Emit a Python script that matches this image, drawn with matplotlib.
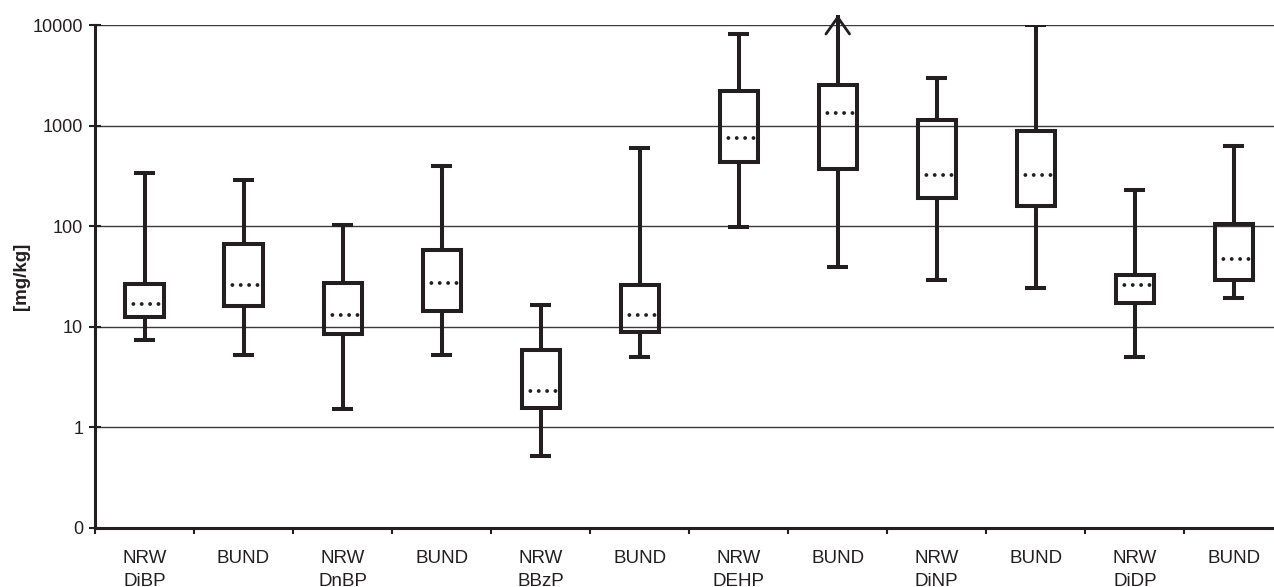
import matplotlib
matplotlib.use("Agg")
import matplotlib.pyplot as plt
import matplotlib.ticker as ticker

plt.rcParams['font.family'] = ['Liberation Sans', 'DejaVu Sans']

# Werte (mg/kg)
labels = ["NRW\nDiBP", "BUND", "NRW\nDnBP", "BUND", "NRW\nBBzP", "BUND",
          "NRW\nDEHP", "BUND", "NRW\nDiNP", "BUND", "NRW\nDiDP", "BUND"]
whisker_low = [7.4, 5.3, 1.53, 5.2, 0.52, 5.0, 98, 39.5, 29.3, 24.4, 5.0, 19.4]
q1 = [12.6, 16.0, 8.5, 14.2, 1.57, 8.8, 436, 373, 190, 160, 17.1, 29.5]
median = [16.9, 26.3, 13.2, 27.5, 2.29, 13.2, 753, 1343, 321, 321, 26.3, 47.4]
q3 = [26.8, 65.8, 27.4, 57.7, 5.85, 25.9, 2222, 2535, 1130, 893, 32.6, 106]
whisker_high = [340, 285, 102, 394, 16.6, 601, 8085, 12600, 2950, 10000, 228, 620]
open_ended = [False, False, False, False, False, False, False, True, False, False, False, False]

y_ticks = [0.1, 1, 10, 100, 1000, 10000]
y_ticklabels = ["0", "1", "10", "100", "1000", "10000"]

ink = '#231f20'

fig = plt.figure(figsize=(12.74, 5.87), dpi=100)
ax = fig.add_axes([95 / 1274, 59 / 587, 1188.4 / 1274, 503 / 587])

stats = []
for i in range(len(labels)):
    stats.append(dict(whislo=whisker_low[i], q1=q1[i], med=median[i],
                      q3=q3[i], whishi=whisker_high[i]))

positions = list(range(1, len(labels) + 1))
bp = ax.bxp(stats, positions=positions, widths=0.385, capwidths=0.21,
            showfliers=False,
            boxprops=dict(color=ink, linewidth=2.9, solid_joinstyle='miter'),
            whiskerprops=dict(color=ink, linewidth=2.9, solid_capstyle='butt'),
            capprops=dict(color=ink, linewidth=2.9, solid_capstyle='butt'),
            medianprops=dict(color=ink, linewidth=2.8,
                             linestyle=(0, (0.001, 2.15)), dash_capstyle='round'))

# Whisker ueber 10000 hinaus -> Pfeil statt Kappe
for i, flag in enumerate(open_ended):
    if flag:
        bp['caps'][2 * i + 1].set_visible(False)
        bp['whiskers'][2 * i + 1].set_clip_on(False)
        ax.annotate('', xy=(positions[i], whisker_high[i]),
                    xytext=(positions[i], 9000),
                    arrowprops=dict(arrowstyle='->,head_length=1.2,head_width=0.85',
                                    color=ink, lw=2.0, shrinkA=0, shrinkB=0),
                    annotation_clip=False)

ax.set_yscale('log')
ax.set_ylim(0.1, 10000)
ax.set_yticks(y_ticks)
ax.set_yticklabels(y_ticklabels)
ax.yaxis.set_minor_locator(ticker.NullLocator())

ax.set_xlim(0.5, len(labels) + 0.5)
ax.set_xticks([p + 0.5 for p in range(0, len(labels) + 1)])
ax.set_xticklabels([])
ax.set_xticks(positions, minor=True)
ax.set_xticklabels(labels, minor=True, linespacing=1.46)

ax.tick_params(axis='y', direction='inout', length=9, width=1.5, color=ink,
               labelsize=13, labelcolor=ink, pad=4)
ax.tick_params(axis='x', which='major', direction='out', length=4.5, width=1.5, color=ink)
ax.tick_params(axis='x', which='minor', length=0, labelsize=13.5, labelcolor=ink, pad=16)

ax.yaxis.grid(True, color='#3a3a3a', linewidth=1)
ax.set_axisbelow(True)

for side in ['top', 'right']:
    ax.spines[side].set_visible(False)
for side in ['left', 'bottom']:
    ax.spines[side].set_color(ink)
    ax.spines[side].set_linewidth(2.2)

ax.set_ylabel('[mg/kg]', fontsize=13.5, fontweight='bold', color=ink)
ax.yaxis.set_label_coords(-0.055, 0.5)

fig.savefig('out.png', dpi=100)
